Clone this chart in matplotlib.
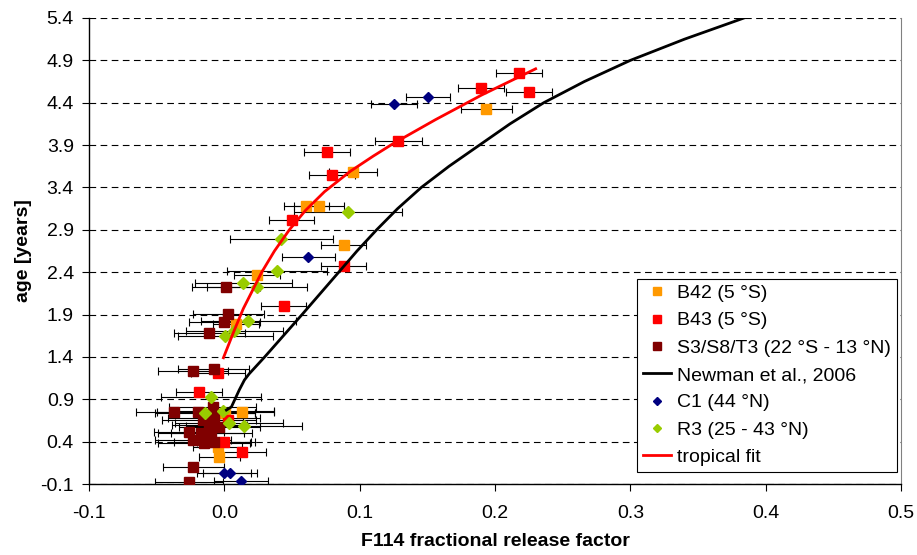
import matplotlib.pyplot as plt
from matplotlib.lines import Line2D

plt.rcParams["font.family"] = ["Liberation Sans", "DejaVu Sans"]

# B42 (5 S)
b42_x = [0.1936, 0.0953, 0.0606, 0.0697, 0.0882, 0.0241, 0.0089, 0.0130, 0.0007, -0.0050, -0.0037]
b42_y = [4.326, 3.580, 3.180, 3.180, 2.720, 2.367, 1.788, 0.753, 0.738, 0.340, 0.215]
b42_err = [0.019, 0.0177, 0.0166, 0.0185, 0.0168, 0.017, 0.017, 0.024, 0.022, 0.018, 0.015]

# B43 (5 S)
b43_x = [0.2175, 0.1895, 0.2249, 0.1286, 0.0759, 0.0796, 0.0498, 0.0882, 0.0438, -0.0044, -0.0185, 0.0030, 0.0000, 0.0130]
b43_y = [4.754, 4.577, 4.523, 3.948, 3.822, 3.547, 3.016, 2.477, 2.004, 1.210, 0.990, 0.655, 0.400, 0.273]
b43_err = [0.017, 0.0169, 0.0169, 0.0172, 0.0172, 0.0172, 0.0165, 0.0165, 0.0166, 0.02, 0.017, 0.02, 0.02, 0.018]

# S3/S8/T3 (22 S - 13 N)
s3_x = [0.0010, 0.0030, 0.0000, -0.0110, -0.0230, -0.0080,
        -0.0375, -0.0197, -0.0086, -0.0160, -0.0074, -0.0110, -0.0037,
        -0.0260, -0.0172, -0.0098, -0.0234, -0.0148, -0.0074, -0.0229, -0.0259]
s3_y = [2.225, 1.906, 1.810, 1.680, 1.233, 1.257,
        0.753, 0.753, 0.812, 0.655, 0.675, 0.596, 0.576,
        0.517, 0.505, 0.498, 0.419, 0.380, 0.399, 0.104, -0.073]
s3_err = [0.025, 0.026, 0.026, 0.026, 0.026, 0.026,
          0.028, 0.030, 0.032, 0.030, 0.034, 0.028, 0.030,
          0.026, 0.032, 0.030, 0.028, 0.034, 0.030, 0.0224, 0.025]

# Newman et al., 2006
newman_x = [0.0015, 0.0052, 0.011, 0.0148, 0.0183, 0.0298, 0.0574, 0.0845, 0.098, 0.1125,
            0.128, 0.1455, 0.166, 0.1885, 0.211, 0.236, 0.266, 0.300, 0.340, 0.384]
newman_y = [0.773, 0.81, 1.01, 1.127, 1.20, 1.40, 1.90, 2.40, 2.65, 2.90,
            3.15, 3.40, 3.65, 3.90, 4.15, 4.40, 4.65, 4.90, 5.15, 5.40]

# C1 (44 N)
c1_x = [0.1505, 0.1254, 0.0621, 0.0000, 0.0040, 0.0123]
c1_y = [4.471, 4.381, 2.583, 0.033, 0.033, -0.065]
c1_err = [0.0164, 0.017, 0.0196, 0.02, 0.02, 0.02]

# R3 (25 - 43 N)
r3_x = [0.0911, 0.0419, 0.0392, 0.0140, 0.0241, 0.0177, 0.0074, 0.0007,
        -0.0098, -0.0143, -0.0007, 0.0032, 0.0143]
r3_y = [3.107, 2.788, 2.410, 2.268, 2.229, 1.827, 1.706, 1.647,
        0.930, 0.740, 0.760, 0.623, 0.588]
r3_err = [0.040, 0.038, 0.037, 0.036, 0.037, 0.035, 0.036, 0.035,
          0.037, 0.037, 0.037, 0.040, 0.043]

# tropical fit
fit_x = [-0.0007, 0.0074, 0.0140, 0.0276, 0.0370, 0.0480, 0.0600, 0.0740, 0.0930,
         0.1100, 0.1250, 0.1560, 0.1900, 0.2300]
fit_y = [1.39, 1.717, 1.97, 2.40, 2.65, 2.90, 3.13, 3.35, 3.59,
         3.77, 3.92, 4.20, 4.49, 4.80]

y_ticks = [-0.1, 0.4, 0.9, 1.4, 1.9, 2.4, 2.9, 3.4, 3.9, 4.4, 4.9, 5.4]
x_ticks = [-0.1, 0.0, 0.1, 0.2, 0.3, 0.4, 0.5]

fig = plt.figure(figsize=(9.17, 5.55), dpi=100)
ax = fig.add_axes([0.0971, 0.1279, 0.8855, 0.8397])

err_kw = dict(ecolor="black", elinewidth=0.8, capsize=3, capthick=0.8, linestyle="none")

ax.errorbar(b42_x, b42_y, xerr=b42_err, fmt="s", color="#FF9900", ms=7, mec="#FF9900", zorder=3, **err_kw)
ax.errorbar(b43_x, b43_y, xerr=b43_err, fmt="s", color="#FF0000", ms=7, mec="#FF0000", zorder=3, **err_kw)
ax.errorbar(s3_x, s3_y, xerr=s3_err, fmt="s", color="#800000", ms=7, mec="#800000", zorder=3, **err_kw)
ax.plot(newman_x, newman_y, color="black", lw=2, zorder=4)
ax.errorbar(c1_x, c1_y, xerr=c1_err, fmt="D", color="#000080", ms=5.5, mec="#000080", zorder=3, **err_kw)
ax.errorbar(r3_x, r3_y, xerr=r3_err, fmt="D", color="#99CC00", ms=6.5, mec="#99CC00", zorder=3, **err_kw)
ax.plot(fit_x, fit_y, color="#FF0000", lw=2, zorder=4)

# legend shows marker only, no error bars
handles = [
    Line2D([], [], marker="s", color="#FF9900", ls="none", ms=5.5),
    Line2D([], [], marker="s", color="#FF0000", ls="none", ms=5.5),
    Line2D([], [], marker="s", color="#800000", ls="none", ms=5.5),
    Line2D([], [], color="black", lw=2),
    Line2D([], [], marker="D", color="#000080", ls="none", ms=4.5),
    Line2D([], [], marker="D", color="#99CC00", ls="none", ms=4.5),
    Line2D([], [], color="#FF0000", lw=2),
]
labels = ["B42 (5 °S)", "B43 (5 °S)", "S3/S8/T3 (22 °S - 13 °N)", "Newman et al., 2006",
          "C1 (44 °N)", "R3 (25 - 43 °N)", "tropical fit"]
leg = ax.legend(handles, labels, loc="lower right", bbox_to_anchor=(0.995, 0.026),
                fontsize=14, frameon=True, fancybox=False, framealpha=1,
                edgecolor="black", handlelength=1.45, handletextpad=0.3,
                labelspacing=0.5, borderpad=0.3, borderaxespad=0)
leg.get_frame().set_linewidth(0.8)

ax.set_xlim(-0.1, 0.5)
ax.set_ylim(-0.1, 5.4)
ax.set_xticks(x_ticks)
ax.set_xticklabels([f"{v:.1f}" for v in x_ticks])
ax.set_yticks(y_ticks)
ax.set_yticklabels([f"{v:.1f}" for v in y_ticks])
ax.tick_params(direction="out", length=5, width=0.8, labelsize=14)
ax.tick_params(axis="x", pad=10)
ax.tick_params(axis="y", pad=6)

ax.yaxis.grid(True, color="black", lw=0.8, linestyle=(0, (6, 4)))
ax.set_axisbelow(True)

ax.spines["top"].set_visible(False)
ax.spines["right"].set_color("#808080")
ax.spines["left"].set_linewidth(1)
ax.spines["bottom"].set_linewidth(1)

ax.set_xlabel("F114 fractional release factor", fontsize=14, fontweight="bold", labelpad=8)
ax.set_ylabel("age [years]", fontsize=14, fontweight="bold", labelpad=6)

plt.savefig("out.png", dpi=100)
plt.close(fig)
